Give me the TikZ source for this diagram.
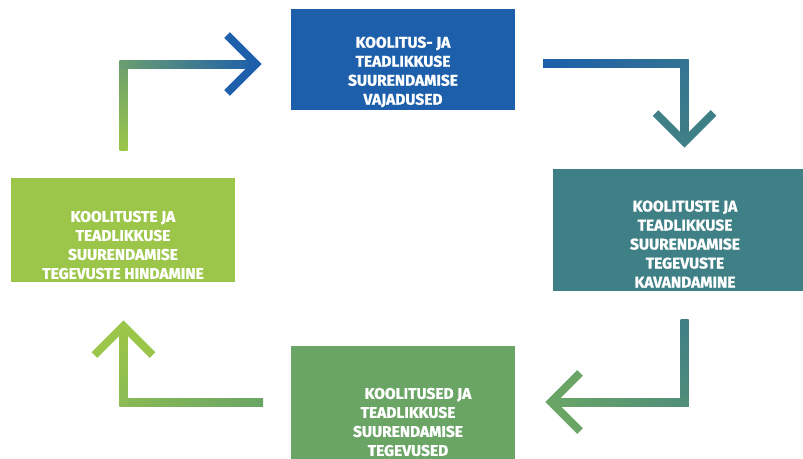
\documentclass[tikz,border=0pt]{standalone}
\usepackage{fontspec}
\setmainfont{Fira Sans}[BoldFeatures={FakeBold=1.2}]
\usetikzlibrary{calc}
\definecolor{cblue}{HTML}{1D5FAA}
\definecolor{cteal}{HTML}{3F7F86}
\definecolor{cgreen}{HTML}{6AA566}
\definecolor{clime}{HTML}{9CC64A}
\tikzset{
  stage/.style={rectangle, inner sep=0pt, draw=none},
  lbl/.style={text=white, align=center, inner sep=0pt,
    font=\bfseries\fontsize{15.5}{19}\selectfont},
  head/.style={line width=8pt, line join=miter, line cap=butt}
}
\begin{document}
\begin{tikzpicture}[x=1pt,y=-1pt]
\useasboundingbox (0,0) rectangle (803,458);

% stages of the cycle
\node[stage, fill=cblue,  minimum width=224pt, minimum height=101pt] (needs) at (403,59.5) {};
\node[stage, fill=cteal,  minimum width=252pt, minimum height=122pt] (plan)  at (679,230) {};
\node[stage, fill=cgreen, minimum width=224pt, minimum height=116pt] (act)   at (403,404) {};
\node[stage, fill=clime,  minimum width=224pt, minimum height=104pt] (eval)  at (123,230) {};

\node[lbl] (needs-t) at (403,72) {KOOLITUS- JA\\TEADLIKKUSE\\SUURENDAMISE\\VAJADUSED};
\node[lbl] (plan-t) at (685,244) {KOOLITUSTE JA\\TEADLIKKUSE\\SUURENDAMISE\\TEGEVUSTE\\KAVANDAMINE};
\node[lbl] (act-t) at (408,422) {\hspace*{20pt}KOOLITUSED JA\\TEADLIKKUSE\\SUURENDAMISE\\TEGEVUSED};
\node[lbl] (eval-t) at (123,245) {KOOLITUSTE JA\\TEADLIKKUSE\\SUURENDAMISE\\TEGEVUSTE HINDAMINE};

% arrow: evaluation -> needs
\coordinate (a4s) at (123.5,150);
\coordinate (a4c) at (123.5,64);
\coordinate (a4t) at (256,64);
\shade[bottom color=clime, top color=clime!61!cblue] ($(a4s)+(-4,0)$) rectangle ($(a4c)+(4,-4)$);
\shade[left color=clime!61!cblue, right color=cblue] ($(a4c)+(-4,-4)$) rectangle ($(a4t)+(0,4)$);
\draw[head, cblue] ($(a4t)+(-29,-29)$) -- (a4t) -- ($(a4t)+(-29,29)$);

% arrow: needs -> planning
\coordinate (a1s) at (543,63.5);
\coordinate (a1c) at (684.5,63.5);
\coordinate (a1t) at (684.5,142);
\shade[left color=cblue, right color=cblue!36!cteal] ($(a1s)+(0,-4)$) rectangle ($(a1c)+(4,4)$);
\shade[top color=cblue!36!cteal, bottom color=cteal] ($(a1c)+(-4,-4)$) rectangle ($(a1t)+(4,0)$);
\draw[head, cteal] ($(a1t)+(-29,-29)$) -- (a1t) -- ($(a1t)+(29,-29)$);

% arrow: planning -> activities
\coordinate (a2s) at (684.5,319);
\coordinate (a2c) at (684.5,402);
\coordinate (a2t) at (551,402);
\shade[top color=cteal, bottom color=cteal!62!cgreen] ($(a2s)+(-4,0)$) rectangle ($(a2c)+(4,4)$);
\shade[left color=cgreen, right color=cteal!62!cgreen] ($(a2t)+(0,-4)$) rectangle ($(a2c)+(4,4)$);
\draw[head, cgreen] ($(a2t)+(29,-29)$) -- (a2t) -- ($(a2t)+(29,29)$);

% arrow: activities -> evaluation
\coordinate (a3s) at (263,402);
\coordinate (a3c) at (123.5,402);
\coordinate (a3t) at (123.5,326);
\shade[left color=cgreen!35!clime, right color=cgreen] ($(a3c)+(-4,-4)$) rectangle ($(a3s)+(0,4)$);
\shade[top color=clime, bottom color=cgreen!35!clime] ($(a3t)+(-4,0)$) rectangle ($(a3c)+(4,4)$);
\draw[head, clime] ($(a3t)+(-29,29)$) -- (a3t) -- ($(a3t)+(29,29)$);
\end{tikzpicture}
\end{document}
